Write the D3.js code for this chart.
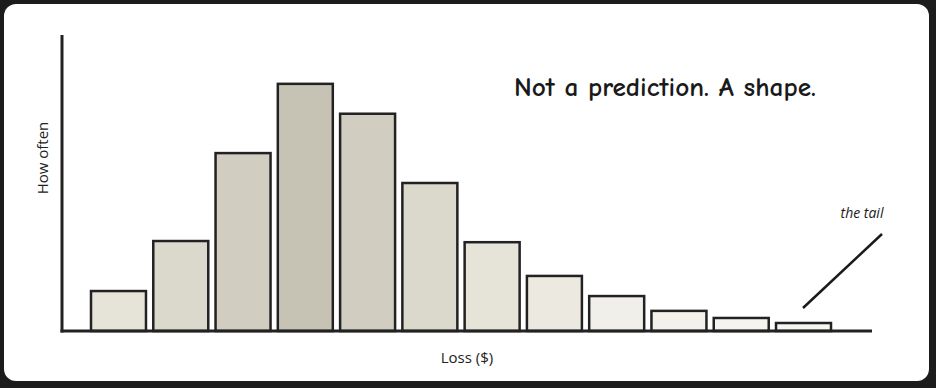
<!DOCTYPE html>
<meta charset="utf-8">
<style>
    body {
        margin: 0;
        background: #1c1c1c;
        font-family: "Open Sans", "Noto Sans", sans-serif;
    }

    svg {
        display: block;
    }
</style>

<body>
    <svg id="chart" width="936" height="388"></svg>
</body>

<script src="https://cdn.jsdelivr.net/npm/d3@7"></script>
<script>
    // Loss buckets (left to right) and how often each shows up
    var buckets = ["b1", "b2", "b3", "b4", "b5", "b6", "b7", "b8", "b9", "b10", "b11", "b12"],
        counts = [13.5, 30.4, 60.1, 83.5, 73.4, 50, 30, 18.6, 11.8, 6.8, 4.4, 2.7];

    var titleText = "Not a prediction. A shape.",
        yLabel = "How often",
        xLabel = "Loss ($)",
        tailNote = "the tail";

    var svg = d3.select("#chart"),
        baseY = 331,
        topY = 35;

    // white card
    svg.append("rect")
        .attr("x", 4).attr("y", 4)
        .attr("width", 925).attr("height", 377)
        .attr("rx", 12)
        .attr("fill", "#fff");

    var x = d3.scaleBand()
        .domain(buckets)
        .range([91, 831])
        .paddingInner(0.117)
        .paddingOuter(0);

    var y = d3.scaleLinear()
        .domain([0, 100])
        .range([baseY, topY]);

    // shade by distance from the peak bucket
    var peak = counts.indexOf(d3.max(counts));
    var color = d3.scaleLinear()
        .domain([0, 3, 5, 8])
        .range(["#c6c3b5", "#e6e3d8", "#f1efe9", "#f7f6f2"]);

    svg.selectAll("rect.bar")
        .data(counts)
        .enter().append("rect")
        .attr("class", "bar")
        .attr("x", function (d, i) { return x(buckets[i]); })
        .attr("y", function (d) { return y(d); })
        .attr("width", x.bandwidth())
        .attr("height", function (d) { return baseY - y(d); })
        .attr("fill", function (d, i) { return color(Math.abs(i - peak)); })
        .attr("stroke", "#222")
        .attr("stroke-width", 2.5);

    // axes (just the lines)
    svg.append("line")
        .attr("x1", 62).attr("x2", 62)
        .attr("y1", topY).attr("y2", baseY + 1.5)
        .attr("stroke", "#222").attr("stroke-width", 3);
    svg.append("line")
        .attr("x1", 60.5).attr("x2", 872)
        .attr("y1", baseY).attr("y2", baseY)
        .attr("stroke", "#222").attr("stroke-width", 3);

    svg.append("text")
        .attr("transform", "translate(48,158)rotate(-90)")
        .attr("text-anchor", "middle")
        .attr("font-size", 15)
        .attr("fill", "#222")
        .text(yLabel);

    svg.append("text")
        .attr("x", 467).attr("y", 363)
        .attr("text-anchor", "middle")
        .attr("font-size", 15)
        .attr("fill", "#222")
        .text(xLabel);

    svg.append("text")
        .attr("x", 514).attr("y", 96)
        .attr("font-family", "'Comic Neue','Comic Sans MS','Lato',sans-serif")
        .attr("font-weight", 900)
        .attr("font-size", 27)
        .attr("textLength", 302)
        .attr("lengthAdjust", "spacingAndGlyphs")
        .attr("fill", "#1a1a1a")
        .text(titleText);

    // tail callout
    svg.append("line")
        .attr("x1", 803).attr("y1", 308)
        .attr("x2", 882).attr("y2", 234)
        .attr("stroke", "#1a1a1a").attr("stroke-width", 2.5);

    svg.append("text")
        .attr("x", 862).attr("y", 218)
        .attr("text-anchor", "middle")
        .attr("font-style", "italic")
        .attr("font-size", 14)
        .attr("fill", "#1a1a1a")
        .text(tailNote);
</script>
